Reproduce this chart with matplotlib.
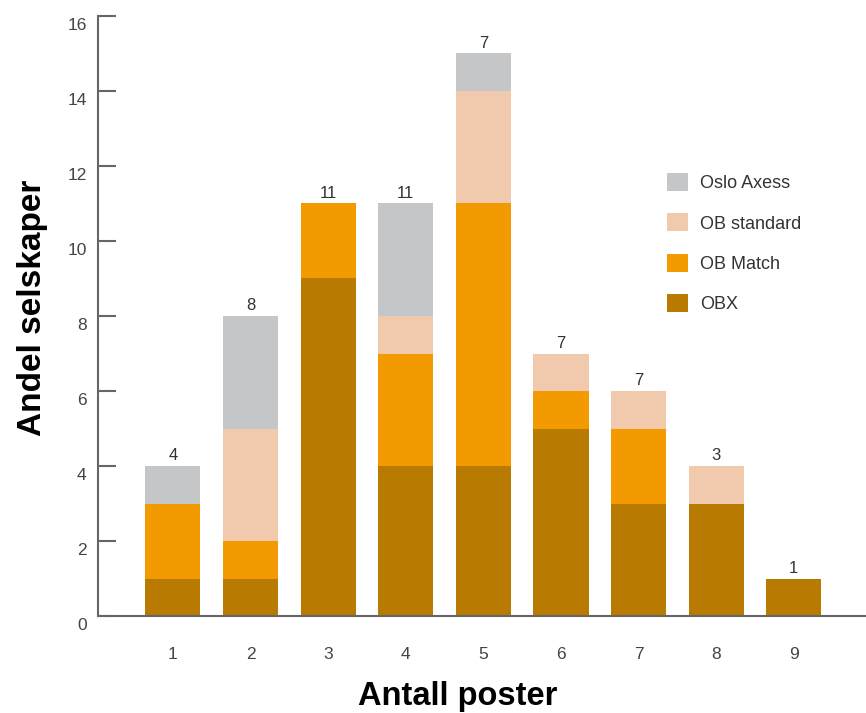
import numpy as np
import matplotlib.pyplot as plt
import matplotlib.transforms as mtransforms

plt.rcParams['font.family'] = ['Liberation Sans', 'DejaVu Sans']

categories = [1, 2, 3, 4, 5, 6, 7, 8, 9]
obx = [1, 1, 9, 4, 4, 5, 3, 3, 1]
ob_match = [2, 1, 2, 3, 7, 1, 2, 0, 0]
ob_standard = [0, 3, 0, 1, 3, 1, 1, 1, 0]
oslo_axess = [1, 3, 0, 3, 1, 0, 0, 0, 0]
top_labels = ['4', '8', '11', '11', '7', '7', '7', '3', '1']

series = [
    ('OBX', obx, '#B87A00'),
    ('OB Match', ob_match, '#F29A00'),
    ('OB standard', ob_standard, '#F1C9AC'),
    ('Oslo Axess', oslo_axess, '#C5C6C8'),
]

fig = plt.figure(figsize=(8.66, 7.13), dpi=100)
ax = fig.add_axes([0.113, 0.136, 0.887, 0.8416])

x = np.array(categories)
bottom = np.zeros(len(x))
handles = []
for name, vals, col in series:
    h = ax.bar(x, vals, width=0.71, bottom=bottom, color=col, label=name, linewidth=0)
    handles.append(h)
    bottom += np.array(vals)

for xi, tot, lab in zip(x, bottom, top_labels):
    ax.annotate(lab, (xi, tot), xytext=(0, 4), textcoords='offset points',
                ha='center', va='baseline', fontsize=12, color='#333333')

ax.set_xlim(0.033, 9.93)
ax.set_ylim(0, 16)
ax.set_yticks(range(0, 17, 2))
ax.set_xticks(categories)

for s in ['top', 'right']:
    ax.spines[s].set_visible(False)
for s in ['left', 'bottom']:
    ax.spines[s].set_color('#666666')
    ax.spines[s].set_linewidth(1.5)

ax.tick_params(axis='y', direction='in', length=13, width=1.5, color='#666666',
               labelsize=12.5, labelcolor='#444444', pad=8)
ax.tick_params(axis='x', length=0, labelsize=12.5, labelcolor='#444444', pad=22)

# shift y tick labels slightly downward
offset = mtransforms.ScaledTranslation(0, -8 / 100, fig.dpi_scale_trans)
for lbl in ax.get_yticklabels():
    lbl.set_transform(lbl.get_transform() + offset)

ax.set_xlabel('Antall poster', fontsize=23.5, fontweight='bold')
ax.xaxis.set_label_coords(458 / 866, 8 / 713, transform=fig.transFigure)
ax.xaxis.label.set_va('baseline')

ax.set_ylabel('Andel selskaper', fontsize=24, fontweight='bold')
ax.yaxis.set_label_coords(48 / 866, 1 - 308 / 713, transform=fig.transFigure)

leg = ax.legend(handles[::-1], [s[0] for s in series][::-1], loc='upper left',
                bbox_to_anchor=(0.741, 0.738), frameon=False, fontsize=13,
                borderpad=0, borderaxespad=0,
                handlelength=1.16, handleheight=1.16, labelspacing=1.17,
                handletextpad=0.66)
for t in leg.get_texts():
    t.set_color('#333333')

fig.savefig('out.png', dpi=100)
